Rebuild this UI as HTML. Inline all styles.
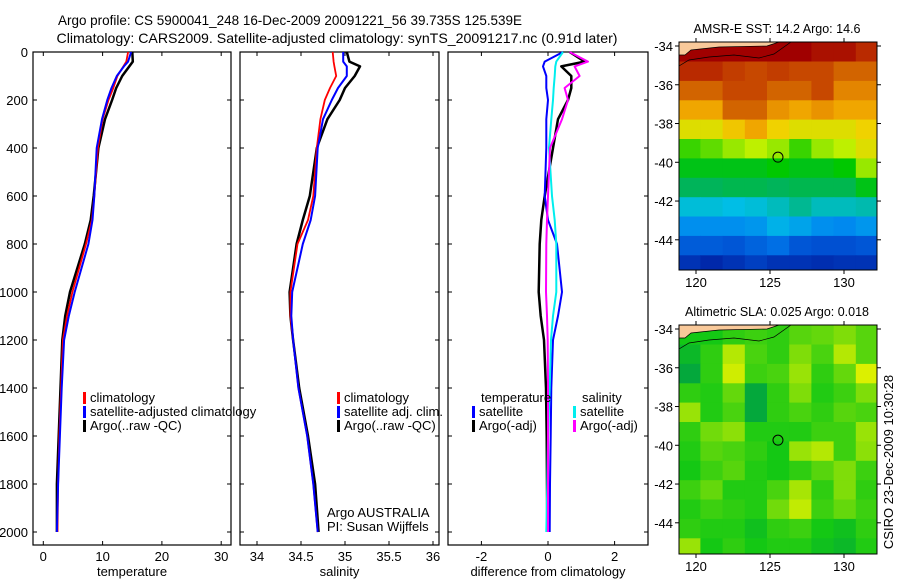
<!DOCTYPE html>
<html><head><meta charset="utf-8">
<style>
html,body{margin:0;padding:0;background:#fff;}
svg{display:block;font-family:"Liberation Sans",sans-serif;}
</style></head>
<body>
<svg id="chart" width="900" height="580" viewBox="0 0 900 580" xmlns="http://www.w3.org/2000/svg">
<text x="290" y="25" font-size="14" text-anchor="middle" textLength="464" lengthAdjust="spacingAndGlyphs">Argo profile: CS 5900041_248 16-Dec-2009 20091221_56 39.735S 125.539E</text>
<text x="337" y="43" font-size="14" text-anchor="middle" textLength="561" lengthAdjust="spacingAndGlyphs">Climatology: CARS2009. Satellite-adjusted climatology: synTS_20091217.nc (0.91d later)</text>
<text x="777" y="33" font-size="13" text-anchor="middle" textLength="167" lengthAdjust="spacingAndGlyphs">AMSR-E SST: 14.2 Argo: 14.6</text>
<text x="777" y="316" font-size="13" text-anchor="middle" textLength="184" lengthAdjust="spacingAndGlyphs">Altimetric SLA: 0.025 Argo: 0.018</text>
<text transform="translate(893,462) rotate(-90)" font-size="13" text-anchor="middle">CSIRO 23-Dec-2009 10:30:28</text>
<g id="g"></g>
</svg>
<script>
// ---- data ----
const depths = [0,40,60,100,150,200,280,400,600,700,800,1000,1100,1200,1400,1600,1800,2000];
const tempClim = [14.3,14.0,13.5,12.5,11.8,11.0,10.0,9.2,8.6,8.2,7.2,4.9,4.0,3.3,3.0,2.7,2.5,2.4];
const tempSat  = [14.8,14.3,13.6,12.4,11.5,10.8,9.9,9.0,8.6,8.3,7.6,5.3,4.3,3.5,3.1,2.8,2.5,2.3];
const tempArgo = [15.0,15.1,14.5,13.3,12.3,11.6,10.4,9.3,8.5,8.0,7.0,4.5,3.7,3.2,2.9,2.6,2.3,2.3];
const salClim = [34.86,34.87,34.88,34.90,34.83,34.77,34.72,34.68,34.64,34.58,34.46,34.38,34.38,34.41,34.47,34.57,34.64,34.69];
const salSat  = [34.98,34.98,35.02,35.02,34.92,34.85,34.75,34.69,34.66,34.61,34.52,34.40,34.39,34.41,34.47,34.57,34.64,34.69];
const salArgo = [35.02,35.05,35.17,35.11,35.00,34.94,34.80,34.68,34.60,34.52,34.45,34.37,34.38,34.41,34.48,34.58,34.66,34.70];
const dTempSat  = [0.45,-0.1,-0.15,-0.05,-0.05,0.0,-0.05,-0.05,-0.1,0.0,0.27,0.42,0.3,0.15,0.1,0.08,0.06,0.05];
const dTempArgo = [0.65,1.1,0.4,0.7,0.7,0.6,0.3,0.15,-0.1,-0.2,-0.25,-0.28,-0.22,-0.12,-0.06,-0.04,-0.03,-0.02];
const dSalSat   = [0.45,0.25,0.22,0.2,0.17,0.15,0.1,0.03,0.12,0.2,0.25,0.25,0.15,0.09,0.05,0.0,-0.02,-0.05];
const dSalArgo  = [0.65,1.2,0.8,0.95,0.5,0.6,0.42,0.06,0.0,-0.03,-0.05,-0.06,-0.03,-0.01,0.0,0.0,0.0,0.0];
const depthTicks = [0,200,400,600,800,1000,1200,1400,1600,1800,2000];
const tempTicks = [0,10,20,30];
const salTicks = [34,34.5,35,35.5,36];
const diffTicks = [-2,0,2];
const latTicks = [-34,-36,-38,-40,-42,-44];
const lonTicks = [120,125,130];
const mapLats = [-33.8,-34.8,-35.8,-36.8,-37.8,-38.8,-39.8,-40.8,-41.8,-42.8,-43.8,-44.8,-45.8];
const mapLons = [118.8,120.3,121.8,123.3,124.8,126.3,127.8,129.3,130.8,132.3];
const sstGrid = [
 [19,19,19,19,19,19,18.8,18.8,18.5],
 [18.5,18.5,18.2,18,18.2,18,18,17.5,17.5],
 [17.5,17.5,18,18,17.5,17.5,18,17,17],
 [16.5,16.5,17.5,17.5,16.8,16.5,16.8,16.5,16.5],
 [15.5,15.5,16,16.5,15.8,15.5,15.5,15.5,15.8],
 [14.3,14.5,14.8,15,14.8,14.3,14.8,15,15.5],
 [13.8,13.8,13.8,13.8,14,13.8,13.8,14,14.8],
 [13.2,13.2,13.3,13.3,13.2,13.3,13.3,13.3,13.8],
 [12.3,12.3,12.2,12.3,12.5,12.8,12.5,12.5,12.6],
 [11.5,11.5,11.5,11.6,12,11.8,11.5,11.4,11.6],
 [10.7,10.7,10.6,10.8,11,10.6,10.5,10.5,10.6],
 [10,9.8,10,10.2,10,10,9.9,10,10]
];
const slaGrid = [
 [0,0,0.02,0.03,0.02,0.05,0.06,0.08,0.05],
 [-0.02,0.02,0.12,0.04,0.02,0.08,0.04,0.12,0.05],
 [-0.04,0.02,0.14,0.03,0.04,0.1,0.02,0.06,0.15],
 [0.02,0.01,0.06,-0.04,0.02,0.08,0.01,0.03,0.08],
 [0.1,0.01,0.04,-0.04,0.02,0.04,0.02,0.05,0.04],
 [0.02,0.07,0.09,0.01,0.01,0.01,0.03,0.03,0.1],
 [0.01,0.05,0.04,0.02,0,0.1,0.12,0.03,0.09],
 [0,0.03,0.05,0.01,0,0.02,0.05,0.08,0.03],
 [0.03,0.06,0.01,0.01,0.04,0.11,0.02,0.08,0.02],
 [0.01,0.03,0.02,0.01,0.07,0.13,0.03,0.06,0.03],
 [0.02,0.01,0.01,-0.01,0.02,0.03,0,-0.01,0.02],
 [0.1,0,0.02,0,0.01,0.01,-0.01,-0.02,0.01]
];

// ---- helpers ----
const NS="http://www.w3.org/2000/svg";
const G=document.getElementById('g');
function mk(tag,attrs,parent){const e=document.createElementNS(NS,tag);for(const k in attrs)e.setAttribute(k,attrs[k]);(parent||G).appendChild(e);return e;}
const yD = d => 52 + d*0.24;
const xT = t => 43.3 + t*5.93;
const xS = s => 257 + (s-34)*88;
const xDf = v => 548 + v*33.3;

function panel(name,x0,x1,ticks,xf,label,showY){
  const grp=mk('g',{});
  
  
  const r=mk('rect',{x:x0,y:52,width:x1-x0,height:493,fill:'none',stroke:'#000','stroke-width':1.2},grp);
  
  
  ticks.forEach(t=>{
    const x=xf(t);
    mk('line',{x1:x,x2:x,y1:545,y2:541,stroke:'#000'},grp);
    mk('line',{x1:x,x2:x,y1:52,y2:56,stroke:'#000'},grp);
    const tx=mk('text',{x:x,y:561,'font-size':13,'text-anchor':'middle'},grp);
    tx.textContent=t;
    
    
  });
  depthTicks.forEach(d=>{
    const y=yD(d);
    mk('line',{x1:x0,x2:x0+4,y1:y,y2:y,stroke:'#000'},grp);
    mk('line',{x1:x1,x2:x1-4,y1:y,y2:y,stroke:'#000'},grp);
    if(showY){
      const tx=mk('text',{x:x0-5,y:y+5,'font-size':13,'text-anchor':'end'},grp);
      tx.textContent=d;
      
      
    }
  });
  const lb=mk('text',{x:(x0+x1)/2,y:576,'font-size':13,'text-anchor':'middle'},grp);
  lb.textContent=label;
  
  
}
function series(name,vals,xf,color,w){
  const pts=vals.map((v,i)=>xf(v).toFixed(1)+','+yD(depths[i]).toFixed(1)).join(' ');
  const p=mk('polyline',{points:pts,fill:'none',stroke:color,'stroke-width':w,'stroke-linejoin':'round'});
  
  
}
function legend(x,y,color,text){
  if(color) mk('rect',{x:x,y:y-10,width:3,height:12,fill:color});
  const t=mk('text',{x:x+7,y:y,'font-size':13});
  t.textContent=text;
  
  
}

panel('temperature-panel',33,231,tempTicks,xT,'temperature',true);
panel('salinity-panel',240,439,salTicks,xS,'salinity',false);
panel('difference-panel',448,648,diffTicks,xDf,'difference from climatology',false);

series('temp-argo-line',tempArgo,xT,'#000',2.5);
series('temp-clim-line',tempClim,xT,'#f00',1.8);
series('temp-sat-line',tempSat,xT,'#00f',2);
series('sal-argo-line',salArgo,xS,'#000',2.5);
series('sal-clim-line',salClim,xS,'#f00',1.8);
series('sal-sat-line',salSat,xS,'#00f',2);
series('dtemp-argo-line',dTempArgo,xDf,'#000',2.5);
series('dtemp-sat-line',dTempSat,xDf,'#00f',2);
series('dsal-sat-line',dSalSat,xDf,'#0ee',2);
series('dsal-argo-line',dSalArgo,xDf,'#f0f',2);

legend(83,402,'#f00','climatology');
legend(83,416,'#00f','satellite-adjusted climatology');
legend(83,430,'#000','Argo(..raw -QC)');
legend(337,402,'#f00','climatology');
legend(337,416,'#00f','satellite adj. clim.');
legend(337,430,'#000','Argo(..raw -QC)');
legend(474,402,null,'temperature');
legend(472,416,'#00f','satellite');
legend(472,430,'#000','Argo(-adj)');
legend(575,402,null,'salinity');
legend(573,416,'#0ee','satellite');
legend(573,430,'#f0f','Argo(-adj)');
const a1=mk('text',{x:327,y:517,'font-size':13});a1.textContent='Argo AUSTRALIA';


const a2=mk('text',{x:327,y:531,'font-size':13});a2.textContent='PI: Susan Wijffels';



// ---- maps ----
const sstStops=[[9.8,[0,40,170]],[10.5,[0,80,210]],[11.3,[0,130,240]],[12.2,[0,190,230]],[13.2,[0,180,90]],[14,[0,200,0]],[15,[190,240,0]],[15.8,[240,210,0]],[16.6,[240,160,0]],[17.5,[210,100,0]],[18.4,[190,50,0]],[19,[160,0,0]]];
function sstCol(v){
  if(v<=sstStops[0][0]) return `rgb(${sstStops[0][1]})`;
  for(let i=1;i<sstStops.length;i++){
    if(v<=sstStops[i][0]){const a=sstStops[i-1],b=sstStops[i];const t=(v-a[0])/(b[0]-a[0]);
      return 'rgb('+a[1].map((c,k)=>Math.round(c+(b[1][k]-c)*t)).join(',')+')';}
  }
  return `rgb(${sstStops[sstStops.length-1][1]})`;
}
function slaCol(v){
  if(v<0){const t=Math.min(1,-v/0.05);return `rgb(${Math.round(20-20*t)},${Math.round(200-40*t)},${Math.round(20+50*t)})`;}
  const t=Math.min(1,v/0.15);
  return `rgb(${Math.round(20+200*t)},${Math.round(200+40*t)},${Math.round(20-20*t)})`;}
function map(name,top,bot,grid,colf){
  const x0=679,x1=877;
  const yL=lat=> (top===42?46:329) + (-34-lat)*19.38;
  const xL=lon=> 696 + (lon-120)*14.8;
  const grp=mk('g',{});
  
  
  const cp='clip-'+name;
  const c=mk('clipPath',{id:cp},grp);
  mk('rect',{x:x0,y:top,width:x1-x0,height:bot-top},c);
  const cells=mk('g',{'clip-path':`url(#${cp})`},grp);
  grid.forEach((row,i)=>row.forEach((v,j)=>{
    const xa=Math.max(x0,xL(mapLons[j])), xb=Math.min(x1,xL(mapLons[j+1]));
    const ya=Math.max(top,yL(mapLats[i])), yb=Math.min(bot,yL(mapLats[i+1]));
    const r=mk('rect',{x:xa.toFixed(1),y:ya.toFixed(1),width:(xb-xa+0.6).toFixed(1),height:(yb-ya+0.6).toFixed(1),fill:colf(v)},cells);
    
    
  }));
  mk('path',{d:`M${x0},${top} L${x0+100},${top} L${x0+88},${top+4} L${x0+40},${top+5} L${x0+12},${top+8} L${x0+6},${top+13} L${x0},${top+13} Z`,fill:'#f9c99a',stroke:'#000','stroke-width':0.7},cells);
  mk('path',{d:`M${x0},${top+24} L${x0+10},${top+18} L${x0+30},${top+15} L${x0+55},${top+13} L${x0+80},${top+16} L${x0+95},${top+12} L${x0+112},${top}`,fill:'none',stroke:'#000','stroke-width':0.7},cells);
  mk('rect',{x:x0,y:top,width:x1-x0,height:bot-top,fill:'none',stroke:'#000'},grp);
  latTicks.forEach(l=>{const y=yL(l);
    mk('line',{x1:x0-4,x2:x0,y1:y,y2:y,stroke:'#000'},grp);
    mk('line',{x1:x1,x2:x1+4,y1:y,y2:y,stroke:'#000'},grp);
    const t=mk('text',{x:x0-6,y:y+5,'font-size':13,'text-anchor':'end'},grp);t.textContent=l;
    
    });
  lonTicks.forEach(l=>{const x=xL(l);
    mk('line',{x1:x,x2:x,y1:top-4,y2:top,stroke:'#000'},grp);
    mk('line',{x1:x,x2:x,y1:bot,y2:bot+4,stroke:'#000'},grp);
    const t=mk('text',{x:x,y:bot+17,'font-size':13,'text-anchor':'middle'},grp);t.textContent=l;
    
    });
  const m=mk('circle',{cx:xL(125.539),cy:yL(-39.735),r:5,fill:'none',stroke:'#000'},grp);
  
  
}
map('sst-map',42,270,sstGrid,sstCol);
map('sla-map',325,554,slaGrid,slaCol);
</script>
</body></html>
